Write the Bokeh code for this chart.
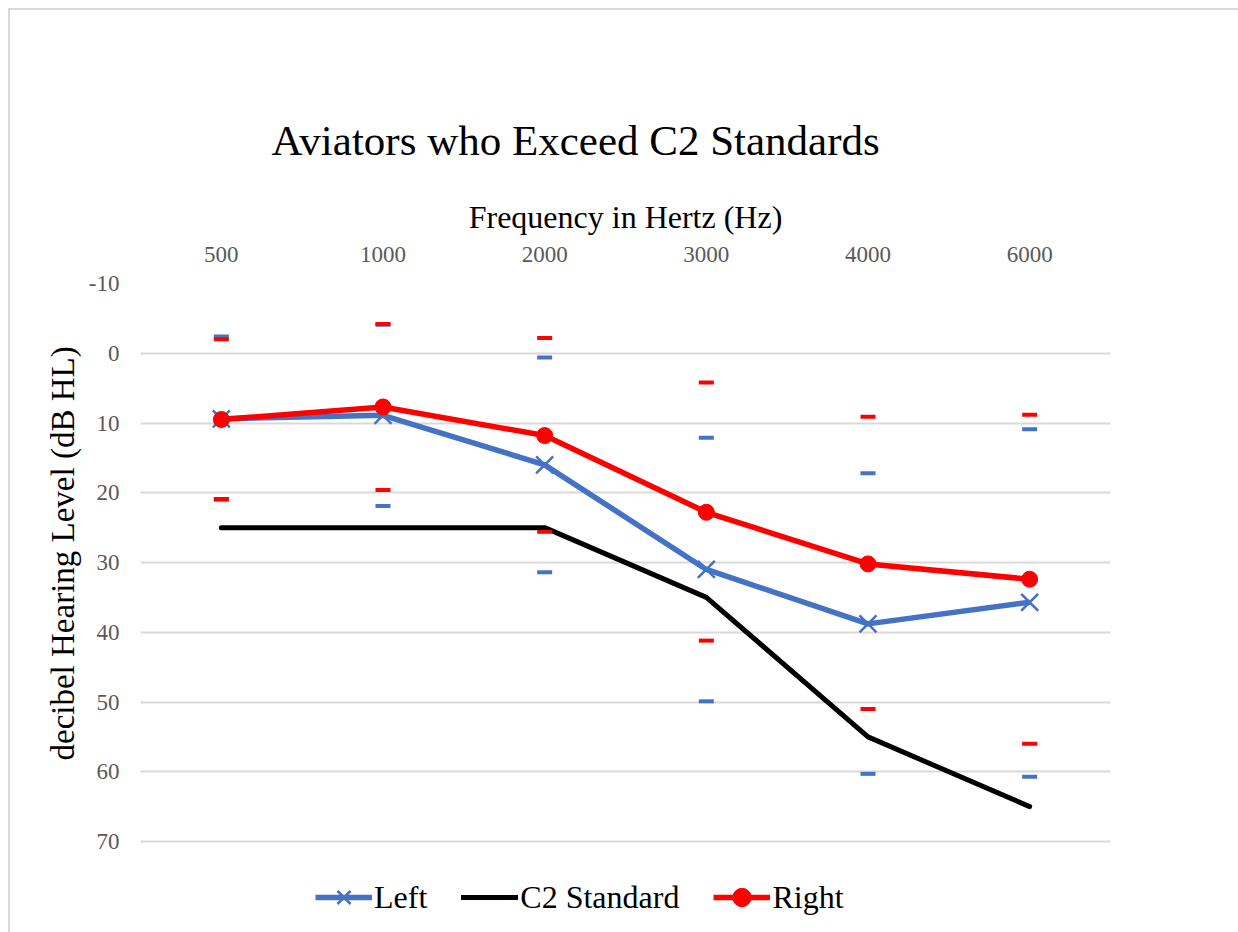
from bokeh.plotting import figure
from bokeh.models import FactorRange, Range1d, FixedTicker, Legend, LegendItem, Title, ColumnDataSource
from bokeh.embed import file_html
from bokeh.resources import INLINE

# ---- data ----
categories = ["500", "1000", "2000", "3000", "4000", "6000"]
left_mean = [9.4, 8.9, 16.0, 31.0, 38.8, 35.7]
right_mean = [9.5, 7.7, 11.8, 22.8, 30.2, 32.4]
c2_standard = [25, 25, 25, 35, 55, 65]
left_upper = [-2.4, -4.1, 0.6, 12.1, 17.2, 10.9]
left_lower = [21.0, 21.9, 31.4, 49.9, 60.3, 60.7]
right_upper = [-2.0, -4.2, -2.2, 4.2, 9.1, 8.8]
right_lower = [20.9, 19.6, 25.6, 41.2, 51.0, 56.0]
y_ticks = [-10, 0, 10, 20, 30, 40, 50, 60, 70]
title_text = "Aviators who Exceed C2 Standards"
x_label = "Frequency in Hertz (Hz)"
y_label = "decibel Hearing Level (dB HL)"

FONT = "Liberation Serif"
BLUE = "#4472C4"
RED = "#FF0000"

# plot area: gridlines -10..70 span 558 px; the frame is extended 91 px below 70
# so that the legend can sit inside it.
GRID_PX = 558
EXTRA_PX = 91
y_bottom = 70 + EXTRA_PX * 80 / GRID_PX

src = ColumnDataSource(dict(cat=categories, left=left_mean, right=right_mean, c2=c2_standard,
                            lu=left_upper, ll=left_lower, ru=right_upper, rl=right_lower))

p = figure(x_range=FactorRange(*categories, range_padding=0), y_range=Range1d(y_bottom, -10),
           frame_width=970, frame_height=GRID_PX + EXTRA_PX,
           min_border_left=130, min_border_right=128, min_border_top=273, min_border_bottom=0,
           x_axis_location="above", output_backend="svg", toolbar_location=None,
           background_fill_color="white", border_fill_color="white")
p.styles = {"margin-top": "8px", "margin-left": "8px",
            "border-top": "2px solid #d9d9d9", "border-left": "2px solid #d9d9d9"}
p.outline_line_color = None

# title (offset to the left like the reference)
p.title = Title(text=title_text, text_font=FONT, text_font_size="43px", text_font_style="normal",
                text_color="black", align="left", offset=131, standoff=64)

# y label as a side title, so it stays centred on the gridded part
p.add_layout(Title(text=y_label, text_font=FONT, text_font_size="33px", text_font_style="normal",
                   text_color="black", align="left", offset=172, standoff=10), "left")

# axes
p.yaxis.ticker = FixedTicker(ticks=y_ticks)
p.yaxis.major_label_overrides = {t: str(t) for t in y_ticks}
for ax in (p.xaxis[0], p.yaxis[0]):
    ax.axis_line_color = None
    ax.major_tick_line_color = None
    ax.minor_tick_line_color = None
    ax.major_tick_out = 0
    ax.major_tick_in = 0
    ax.minor_tick_out = 0
    ax.major_label_text_font = FONT
    ax.major_label_text_font_size = "23px"
    ax.major_label_text_color = "#595959"
    ax.axis_label_text_font = FONT
    ax.axis_label_text_font_style = "normal"
    ax.axis_label_text_color = "black"
p.xaxis.axis_label_text_font_size = "32px"
p.yaxis.major_label_standoff = 21
p.xaxis.major_label_standoff = 22
p.xaxis.axis_label = x_label
p.xaxis.axis_label_standoff = 9

p.xgrid.grid_line_color = None
p.ygrid.grid_line_color = "#d9d9d9"
p.ygrid.grid_line_width = 2

# lines
r_c2 = p.line("cat", "c2", source=src, line_color="black", line_width=5, line_cap="round")
r_left = p.line("cat", "left", source=src, line_color=BLUE, line_width=5.5, line_join="round")
r_left_m = p.scatter("cat", "left", source=src, marker="x", size=24, line_color=BLUE, line_width=2.5)
r_right = p.line("cat", "right", source=src, line_color=RED, line_width=5.5, line_join="round")
r_right_m = p.scatter("cat", "right", source=src, marker="circle", size=16, fill_color=RED, line_color=RED)

# range dashes
for col, colr in (("lu", BLUE), ("ll", BLUE), ("ru", RED), ("rl", RED)):
    p.rect("cat", col, source=src, width=15, height=4, width_units="screen", height_units="screen",
           fill_color=colr, line_color=None)

legend = Legend(items=[LegendItem(label="Left", renderers=[r_left, r_left_m]),
                       LegendItem(label="C2 Standard", renderers=[r_c2]),
                       LegendItem(label="Right", renderers=[r_right, r_right_m])],
                orientation="horizontal", location=(175, 12))
legend.label_text_font = FONT
legend.label_text_font_size = "32px"
legend.label_text_color = "black"
legend.glyph_width = 57
legend.glyph_height = 46
legend.label_standoff = 2
legend.spacing = 34
legend.padding = 0
legend.margin = 0
legend.border_line_color = None
legend.background_fill_alpha = 0
p.add_layout(legend, "center")

open("out.html", "w").write(file_html(p, INLINE))
